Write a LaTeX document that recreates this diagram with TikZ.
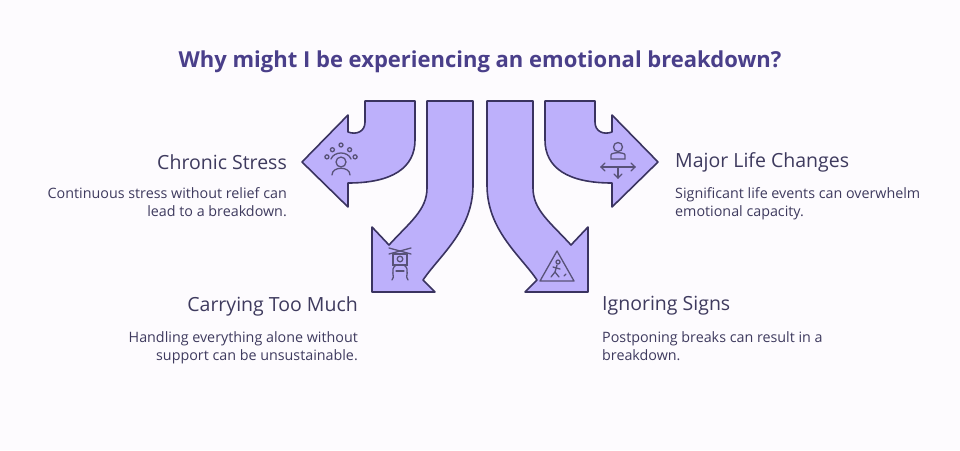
\documentclass[tikz,border=0pt]{standalone}
\usepackage{fontspec}
\setmainfont{Open Sans}
\begin{document}
\begin{tikzpicture}[x=1pt,y=-1pt,
 arr/.style={fill=arrfill,draw=arrline,line width=1.6pt,line join=round},
 ic/.style={draw=arrline!85,line width=1.3pt,line cap=round},
 ttl/.style={text=ttlc,font=\fontsize{22}{26}\selectfont\bfseries},
 hd/.style={text=txtc,font=\fontsize{19.5}{22}\selectfont},
 ds/.style={text=txtc,font=\fontsize{14.3}{18}\selectfont,align=#1,inner sep=0pt}]
\definecolor{arrfill}{HTML}{BDB0FB}
\definecolor{arrline}{HTML}{3A3360}
\definecolor{ttlc}{HTML}{4A3F8A}
\definecolor{txtc}{HTML}{3E3A5E}
\fill[fill={rgb,255:red,253;green,251;blue,254}] (0,0) rectangle (960,450);
\useasboundingbox (0,0) rectangle (960,450);
\node[ttl] (title) at (480,62) {Why might I be experiencing an emotional breakdown?};
% arrows
\draw[arr] (365,101) -- (415,101) -- (415,140) .. controls (415,168) and (392,183) .. (348,183) -- (348,207) -- (302,162) -- (348,115) -- (348,132) .. controls (356,135) and (365,132) .. (365,122) -- cycle;
\draw[arr] (595,101) -- (545,101) -- (545,140) .. controls (545,168) and (568,183) .. (612,183) -- (612,207) -- (658,162) -- (612,115) -- (612,132) .. controls (604,135) and (595,132) .. (595,122) -- cycle;
\draw[arr] (427,101) -- (473,101) -- (473,185) .. controls (473,230) and (440,255) .. (423,280) -- (435,292) -- (372,292) -- (372,227) -- (389,245) .. controls (410,222) and (427,210) .. (427,188) -- cycle;
\draw[arr] (533,101) -- (487,101) -- (487,185) .. controls (487,230) and (520,255) .. (537,280) -- (525,292) -- (588,292) -- (588,227) -- (571,245) .. controls (550,222) and (533,210) .. (533,188) -- cycle;
% icons
\begin{scope}[shift={(341,162)}]
 \draw[ic] (0,0) circle (5);
 \draw[ic] (-9,13) .. controls (-9,4) and (9,4) .. (9,13);
 \draw[ic] (-10,-3) .. controls (-7,-11) and (7,-11) .. (10,-3);
 \foreach \a/\r in {200/15,235/15,270/17,305/15,340/15}{\draw[ic] (\a:\r) circle (2);}
\end{scope}
\begin{scope}[shift={(618,152)}]
 \draw[ic] (0,-5) circle (4.5);
 \draw[ic] (-7,7) -- (-7,3) .. controls (-7,0) and (7,0) .. (7,3) -- (7,7) -- cycle;
 \draw[ic] (-17,15) -- (17,15); \draw[ic] (0,15) -- (0,26);
 \draw[ic] (-13,11) -- (-17,15) -- (-13,19); \draw[ic] (13,11) -- (17,15) -- (13,19); \draw[ic] (-4,22) -- (0,26) -- (4,22);
\end{scope}
\begin{scope}[shift={(400,265)}]
 \draw[ic] (-11,-17) -- (11,-11); \draw[ic] (-11,-11) -- (11,-17);
 \draw[ic] (-7,-11) rectangle (7,0); \draw[ic] (0,-6) circle (2.8);
 \draw[ic] (-4,0) .. controls (-11,5) and (-4,12) .. (-8,15);
 \draw[ic] (4,0) .. controls (11,5) and (4,12) .. (8,15);
 \draw[ic] (-4,6) -- (4,6);
\end{scope}
\begin{scope}[shift={(557,268)}]
 \draw[ic,line join=round] (-17,13) -- (0,-17) -- (17,13) -- cycle;
 \draw[ic] (1,-6) circle (2);
 \draw[ic] (0,-3) -- (-2,4) -- (2,9); \draw[ic] (-2,4) -- (-6,9);
 \draw[ic] (-4,-1) -- (3,1); \draw[ic] (7,8) -- (9,6);
\end{scope}
% labels
\node[hd,anchor=east,inner sep=0pt] (h1) at (287,162) {Chronic Stress};
\node[ds=right,anchor=north east] (d1) at (287,187) {Continuous stress without relief can\\lead to a breakdown.};
\node[hd,anchor=west,inner sep=0pt] (h2) at (675,162) {Major Life Changes};
\node[ds=left,anchor=north west] (d2) at (675,187) {Significant life events can overwhelm\\emotional capacity.};
\node[hd,anchor=east,inner sep=0pt] (h3) at (358,306) {Carrying Too Much};
\node[ds=right,anchor=north east] (d3) at (358,331) {Handling everything alone without\\support can be unsustainable.};
\node[hd,anchor=west,inner sep=0pt] (h4) at (602,306) {Ignoring Signs};
\node[ds=left,anchor=north west] (d4) at (602,331) {Postponing breaks can result in a\\breakdown.};
\end{tikzpicture}
\end{document}
